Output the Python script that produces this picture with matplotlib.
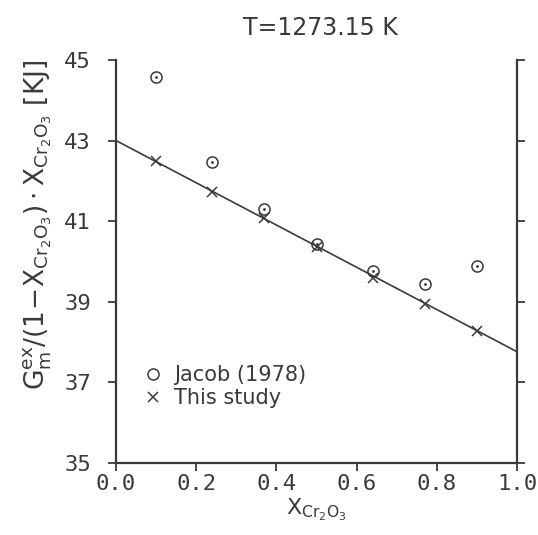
import numpy as np
import matplotlib.pyplot as plt

# Jacob (1978)
x_jacob = [0.10, 0.24, 0.37, 0.50, 0.64, 0.77, 0.90]
g_jacob = [44.58, 42.46, 41.31, 40.43, 39.77, 39.43, 39.89]
# This study
x_study = [0.10, 0.24, 0.37, 0.50, 0.64, 0.77, 0.90]
g_study = [42.49, 41.72, 41.07, 40.35, 39.60, 38.95, 38.27]
# fitted line
x_fit = [0.0, 1.0]
g_fit = [43.0, 37.76]

xticks = [0.0, 0.2, 0.4, 0.6, 0.8, 1.0]
yticks = [35, 37, 39, 41, 43, 45]

ink = '#3a3a3a'

fig = plt.figure(figsize=(5.38, 5.35), dpi=100)
ax = fig.add_axes([0.2156, 0.1346, 0.7454, 0.7534])

ax.plot(x_fit, g_fit, color=ink, lw=1.2)
ax.plot(x_jacob, g_jacob, 'o', mfc='none', mec=ink, ms=8, mew=1.1,
        label='Jacob (1978)')
ax.plot(x_jacob, g_jacob, '.', color=ink, ms=2)
ax.plot(x_study, g_study, 'x', color=ink, ms=7, mew=1.1,
        label='This study')

ax.set_xlim(0, 1)
ax.set_ylim(35, 45)
ax.set_xticks(xticks)
ax.set_xticklabels(['%.1f' % v for v in xticks], family='DejaVu Sans Mono',
                   fontsize=16, color=ink)
ax.set_yticks(yticks)
ax.set_yticklabels([str(v) for v in yticks], family='DejaVu Sans Mono',
                   fontsize=16, color=ink)
ax.tick_params(direction='out', length=6, width=1.3, color=ink,
               right=True, labelright=False)
ax.tick_params(axis='y', pad=12)
ax.tick_params(axis='x', pad=2)

ax.spines['top'].set_visible(False)
for s in ['left', 'right', 'bottom']:
    ax.spines[s].set_linewidth(1.6)
    ax.spines[s].set_color(ink)

ax.set_title('T=1273.15 K', fontsize=17, color=ink, pad=18, x=0.51)
ax.set_xlabel(r'$\mathregular{X_{Cr_2O_3}}$', fontsize=16, color=ink,
              labelpad=2)
ax.set_ylabel(r'$\mathregular{G_m^{ex}/(1\!-\!X_{Cr_2O_3})\cdot X_{Cr_2O_3}}$ [KJ]',
              fontsize=19, color=ink)
ax.yaxis.set_label_coords(-0.155, 0.59)

ax.legend(loc='lower left', bbox_to_anchor=(0.025, 0.09), frameon=False,
          fontsize=15, handlelength=0.8, handletextpad=0.6,
          labelspacing=0.15, labelcolor=ink)

fig.savefig('out.png', dpi=100)
